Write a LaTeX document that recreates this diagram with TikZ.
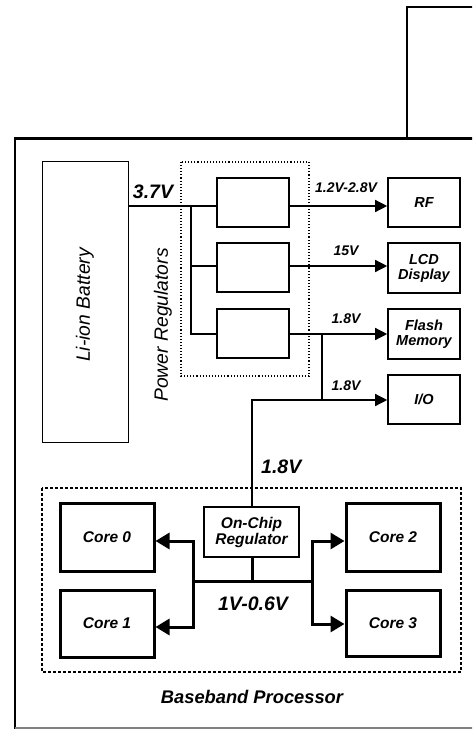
\documentclass[tikz,border=0pt]{standalone}
\usepackage{fontspec}
\setmainfont{Liberation Sans}
\usetikzlibrary{arrows.meta}
\tikzset{
  frame/.style={line width=2.8pt, line cap=rect},
  thinbox/.style={draw, line width=1.6pt, inner sep=0pt, align=center, font=\fontsize{14.5}{16}\selectfont\bfseries\itshape},
  corebox/.style={draw, line width=3pt, inner sep=0pt, align=center, minimum width=94pt, font=\fontsize{15.5}{17}\selectfont\bfseries\itshape},
  wire/.style={line width=1.4pt},
  arr/.style={line width=1.4pt, -{Triangle[length=12pt,width=12pt]}},
  bigwire/.style={line width=3pt},
  bigarr/.style={line width=3pt, -{Triangle[length=14pt,width=16pt]}},
  vlabel/.style={font=\fontsize{14}{16}\selectfont\bfseries\itshape, inner sep=0pt},
  biglabel/.style={font=\fontsize{19.5}{21}\selectfont\bfseries\itshape, inner sep=0pt},
  rotlabel/.style={font=\fontsize{19.3}{21}\selectfont\itshape, inner sep=0pt, rotate=90}
}
\begin{document}
\begin{tikzpicture}[x=1pt,y=-1pt]
\useasboundingbox (0,0) rectangle (472,730);
\clip (0,0) rectangle (472,730);
% phone outline
\draw[frame] (490,7) -- (407,7) -- (407,138.5);
\draw[frame] (490,138.5) -- (15,138.5) -- (15,728);
\draw[line width=1.5pt, gray] (15,728) -- (490,728);
% battery
\node[draw, line width=1pt, minimum width=86pt, minimum height=280pt, inner sep=0pt] (bat) at (85,302) {};
\node[rotlabel] (batlbl) at (85,305) {Li-ion Battery};
% power regulators group
\draw[line width=1.1pt, dotted] (181,162) rectangle (309,376);
\node[rotlabel] (prlbl) at (163,325) {Power Regulators};
\node[thinbox, minimum width=72pt, minimum height=49pt] (r1) at (253,202.5) {};
\node[thinbox, minimum width=72pt, minimum height=49pt] (r2) at (253,267.5) {};
\node[thinbox, minimum width=72pt, minimum height=49pt] (r3) at (253,333.5) {};
% loads
\node[thinbox, minimum width=72pt, minimum height=49pt] (rf) at (424,202.5) {RF};
\node[thinbox, minimum width=72pt, minimum height=50pt] (lcd) at (424,268) {LCD\\[-1pt]Display};
\node[thinbox, minimum width=72pt, minimum height=50pt] (flash) at (424,334) {Flash\\[-1pt]Memory};
\node[thinbox, minimum width=72pt, minimum height=49pt] (io) at (424,399.5) {I/O};
% coordinates
\coordinate (b1) at (191,206);
\coordinate (b2) at (191,266);
\coordinate (b3) at (191,334);
\coordinate (fj) at (322,334);
\coordinate (ij) at (322,400);
\coordinate (vc) at (252,400);
% battery to regulators
\draw[wire] (bat.east |- b1) -- (r1.west |- b1);
\draw[wire] (b1) -- (b3) -- (r3.west |- b3);
\draw[wire] (b2) -- (r2.west |- b2);
\node[biglabel] (v37) at (153,192) {3.7V};
% regulator outputs
\draw[arr] (r1.east |- 0,206) -- (rf.west |- 0,206);
\draw[arr] (r2.east |- 0,266) -- (lcd.west |- 0,266);
\draw[arr] (r3.east |- fj) -- (flash.west |- fj);
\draw[wire] (fj) -- (ij);
\draw[arr] (ij) -- (io.west |- ij);
\node[vlabel] (l1) at (346,188) {1.2V-2.8V};
\node[vlabel] (l2) at (346,251) {15V};
\node[vlabel] (l3) at (346,319) {1.8V};
\node[vlabel] (l4) at (346,386) {1.8V};
% baseband processor
\draw[line width=2.8pt, dash pattern=on 3pt off 2pt] (42,488) rectangle (461,672);
\node[corebox, minimum width=95pt, minimum height=50pt, line width=2.5pt] (oc) at (251.5,532) {On-Chip\\[-1pt]Regulator};
\draw[wire] (ij) -- (vc) -- (vc |- oc.north);
\node[biglabel, anchor=west] (v18) at (261,467) {1.8V};
\node[corebox, minimum height=68pt] (c0) at (107,537) {Core 0};
\node[corebox, minimum height=67pt] (c1) at (107,623.5) {Core 1};
\node[corebox, minimum height=68pt] (c2) at (393,537) {Core 2};
\node[corebox, minimum height=66pt] (c3) at (393,623) {Core 3};
\coordinate (bl) at (193,581);
\coordinate (br) at (312,581);
\draw[bigwire] (vc |- oc.south) -- (vc |- bl);
\draw[bigwire] (bl) -- (br);
\draw[bigarr] (bl) -- (193,541) -- (c0.east |- 0,541);
\draw[bigarr] (bl) -- (193,627) -- (c1.east |- 0,627);
\draw[bigarr] (br) -- (312,541) -- (c2.west |- 0,541);
\draw[bigarr] (br) -- (312,624) -- (c3.west |- 0,624);
\node[biglabel] (vcore) at (253,604) {1V-0.6V};
\node[biglabel, font=\fontsize{18.3}{20}\selectfont\bfseries\itshape] (bbl) at (252,697) {Baseband Processor};
\end{tikzpicture}
\end{document}
